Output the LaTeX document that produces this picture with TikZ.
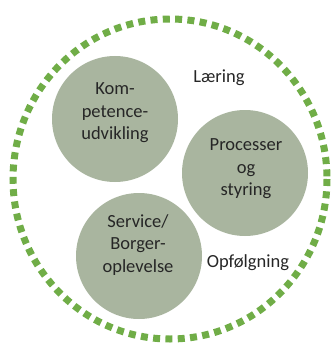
\documentclass[tikz,border=0pt]{standalone}
\usepackage{fontspec}
\setmainfont{Carlito}
\definecolor{blobfill}{HTML}{A9B59F}
\definecolor{dashgreen}{HTML}{70AD47}
\begin{document}
\begin{tikzpicture}[x=1pt,y=-1pt,
  blob/.style={circle, fill=blobfill, minimum size=126pt, inner sep=0pt},
  lbl/.style={align=center, font=\fontsize{18.5}{22.5}\selectfont, text=black!85, inner sep=0pt},
  ring/.style={draw=dashgreen, line width=7pt, dash pattern=on 7pt off 5.33pt}]
\useasboundingbox (0,0) rectangle (331,345);
\draw[ring] (170,179) ellipse [x radius=157, y radius=160];
\node[blob] (komp) at (115,119) {};
\node[blob] (proc) at (245,173) {};
\node[blob] (serv) at (139,256) {};
\node[lbl] (kompt) at (115,113) {Kom-\\petence-\\udvikling};
\node[lbl] (proct) at (246,169) {Processer\\og\\styring};
\node[lbl] (servt) at (138,245) {Service/\\Borger-\\oplevelse};
\node[lbl] (laer) at (219,78) {Læring};
\node[lbl] (opf) at (248,263) {Opfølgning};
\end{tikzpicture}
\end{document}
